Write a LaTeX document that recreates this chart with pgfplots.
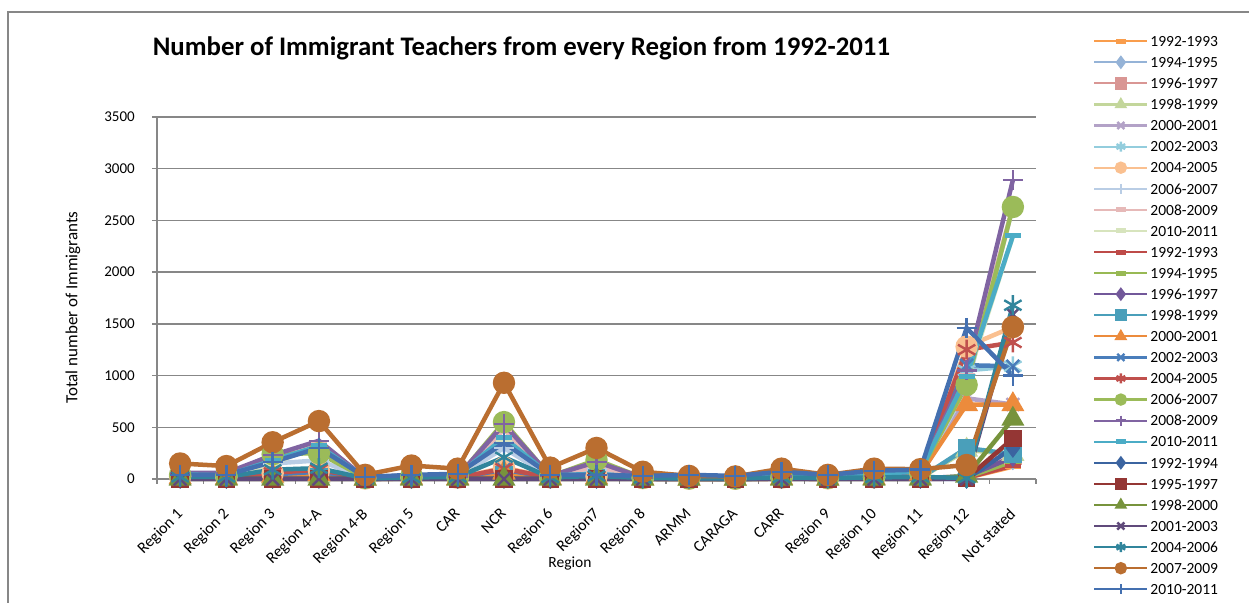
\documentclass[border=0pt]{standalone}
\usepackage{fontspec}
\setmainfont{Carlito}
\usepackage{pgfplots}
\pgfplotsset{compat=1.18}

% pale first group
\definecolor{c1}{HTML}{F99D4C}
\definecolor{c2}{HTML}{95B3D7}
\definecolor{c3}{HTML}{D99694}
\definecolor{c4}{HTML}{C3D69B}
\definecolor{c5}{HTML}{B3A2C7}
\definecolor{c6}{HTML}{93CDDD}
\definecolor{c7}{HTML}{FAC090}
\definecolor{c8}{HTML}{B9CDE5}
\definecolor{c9}{HTML}{E6B9B8}
\definecolor{c10}{HTML}{D7E4BD}
% second group
\definecolor{c11}{HTML}{BE4B48}
\definecolor{c12}{HTML}{98B954}
\definecolor{c13}{HTML}{72589A}
\definecolor{c14}{HTML}{4A9FBA}
\definecolor{c15}{HTML}{EC8B3C}
\definecolor{c16}{HTML}{4A7EBB}
\definecolor{c17}{HTML}{C0504D}
\definecolor{c18}{HTML}{9BBB59}
\definecolor{c19}{HTML}{8064A2}
\definecolor{c20}{HTML}{4BACC6}
% third group
\definecolor{c21}{HTML}{3B64A0}
\definecolor{c22}{HTML}{943634}
\definecolor{c23}{HTML}{77933C}
\definecolor{c24}{HTML}{604A7B}
\definecolor{c25}{HTML}{31859C}
\definecolor{c26}{HTML}{BA6E30}
\definecolor{c27}{HTML}{4470B0}
\definecolor{gridgray}{HTML}{878787}

\newcommand\fs{\fontsize{15bp}{18bp}\selectfont}

\pgfplotsset{
  ln/.style={color=#1, line width=4.5bp, mark options={solid, line width=2.4bp}},
  mdash/.style={mark=-, mark size=8bp, mark options={solid, line width=5bp}},
  mdiam/.style={mark=diamond*, mark size=8bp},
  msq/.style={mark=square*, mark size=7.5bp},
  mtri/.style={mark=triangle*, mark size=11bp},
  mx/.style={mark=x, mark size=9bp},
  mast/.style={mark=asterisk, mark size=10bp},
  mcirc/.style={mark=*, mark size=10bp},
  mplus/.style={mark=+, mark size=10bp},
}

% one series: values for the 19 regions, in order
\newcommand\ser[2]{\addplot[#1] table[x expr=\coordindex, y=v, row sep=\\] {v\\#2\\};}

\begin{document}
\begin{tikzpicture}
\useasboundingbox (0,0) rectangle (1249bp,603bp);
\draw[gridgray, line width=1.3bp] (8bp,0bp) -- (8bp,591bp) -- (1249bp,591bp);

\begin{axis}[
  at={(157bp,124bp)}, anchor=south west,
  width=879bp, height=362bp, scale only axis,
  xmin=-0.5, xmax=18.5, ymin=0, ymax=3500,
  clip=false,
  axis x line*=bottom, axis y line*=left,
  axis line style={gridgray, line width=1.3bp, -},
  xtick={0,...,18},
  xticklabels={Region 1,Region 2,Region 3,Region 4-A,Region 4-B,Region 5,CAR,NCR,Region 6,Region7,Region 8,ARMM,CARAGA,CARR,Region 9,Region 10,Region 11,Region 12,Not stated},
  minor xtick={-0.5,0.5,...,18.5},
  ytick={0,500,...,3500},
  ymajorgrids,
  major grid style={gridgray, line width=1.3bp},
  tick align=outside,
  major tick length=5bp, minor tick length=5bp,
  tick style={gridgray, line width=1.3bp},
  major x tick style={draw=none},
  scaled y ticks=false,
  /pgf/number format/assume math mode=true,
  /pgf/number format/set thousands separator={},
  yticklabel style={font=\fs, inner sep=0pt, anchor=east, xshift=-17bp},
  xticklabel style={font=\fontsize{16bp}{19bp}\selectfont, inner sep=0pt, xshift=-4.5bp, yshift=-23bp, rotate=45, anchor=north east},
  legend cell align=left,
  legend style={at={(1.0649,1.2272)}, anchor=north west, draw=none, fill=none,
    inner sep=0pt, row sep=8.58bp, column sep=1bp, font=\fontsize{15.5bp}{18bp}\selectfont,
    nodes={inner sep=1bp, text height=10.5bp, text depth=0bp}},
  legend image code/.code={
    \draw[#1, line width=2.2bp] (0bp,0bp) -- (53bp,0bp);
    \draw[#1, mark size=5bp] plot coordinates {(26.5bp,0bp)};
  },
  legend entries={1992-1993,1994-1995,1996-1997,1998-1999,2000-2001,2002-2003,2004-2005,2006-2007,2008-2009,2010-2011,
    1992-1993,1994-1995,1996-1997,1998-1999,2000-2001,2002-2003,2004-2005,2006-2007,2008-2009,2010-2011,
    1992-1994,1995-1997,1998-2000,2001-2003,2004-2006,2007-2009,2010-2011},
]
\ser{ln=c1, mdash}{5\\3\\8\\10\\0\\4\\3\\20\\4\\5\\2\\1\\1\\3\\2\\4\\5\\10\\120}
\ser{ln=c2, mdiam}{6\\4\\10\\12\\1\\5\\4\\25\\5\\6\\2\\1\\1\\4\\2\\5\\6\\15\\180}
\ser{ln=c3, msq}{8\\6\\14\\18\\1\\6\\5\\60\\6\\8\\3\\1\\1\\5\\3\\6\\8\\20\\220}
\ser{ln=c4, mtri}{12\\8\\20\\25\\2\\8\\6\\60\\8\\10\\4\\2\\1\\6\\3\\8\\10\\280\\240}
\ser{ln=c5, mx}{15\\10\\30\\40\\3\\10\\8\\80\\10\\15\\5\\2\\2\\8\\4\\10\\40\\780\\720}
\ser{ln=c6, mast}{20\\14\\40\\60\\4\\12\\10\\100\\12\\20\\6\\3\\2\\10\\5\\12\\50\\1050\\1090}
\ser{ln=c7, mcirc}{25\\18\\55\\80\\5\\15\\12\\110\\15\\25\\8\\3\\3\\12\\6\\15\\60\\1280\\1470}
\ser{ln=c8, mplus}{35\\25\\150\\180\\8\\25\\18\\300\\20\\90\\10\\4\\3\\18\\8\\20\\70\\880\\2630}
\ser{ln=c9, mdash}{45\\30\\170\\350\\8\\30\\20\\480\\25\\120\\12\\5\\4\\20\\10\\25\\80\\1000\\2630}
\ser{ln=c10, mdash}{40\\30\\150\\320\\10\\30\\30\\380\\30\\40\\15\\10\\8\\40\\20\\40\\70\\950\\2350}
\ser{ln=c11, mdash}{5\\4\\10\\12\\1\\5\\4\\50\\5\\6\\2\\1\\1\\3\\2\\5\\6\\12\\130}
\ser{ln=c12, mdash}{6\\5\\12\\14\\1\\6\\5\\30\\6\\7\\3\\1\\1\\4\\2\\6\\8\\18\\170}
\ser{ln=c13, mdiam}{8\\6\\15\\20\\2\\7\\5\\35\\7\\9\\3\\1\\1\\5\\3\\7\\9\\25\\210}
\ser{ln=c14, msq}{10\\8\\20\\25\\2\\8\\6\\40\\8\\10\\4\\2\\1\\6\\3\\8\\10\\300\\240}
\ser{ln=c15, mtri}{15\\10\\30\\45\\3\\10\\8\\60\\10\\15\\5\\2\\2\\8\\4\\10\\50\\720\\720}
\ser{ln=c16, mx}{20\\15\\45\\70\\4\\12\\10\\90\\12\\20\\6\\3\\2\\10\\5\\12\\55\\1100\\1090}
\ser{ln=c17, mast}{25\\20\\60\\90\\5\\15\\12\\100\\15\\25\\8\\3\\3\\12\\6\\15\\60\\1250\\1320}
\ser{ln=c18, mcirc}{40\\30\\240\\250\\10\\30\\20\\550\\25\\185\\12\\5\\4\\20\\10\\25\\70\\910\\2630}
\ser{ln=c19, mplus}{60\\60\\230\\370\\10\\40\\25\\530\\30\\165\\15\\5\\4\\25\\12\\30\\80\\1050\\2890}
\ser{ln=c20, mdash}{45\\35\\180\\320\\12\\35\\35\\400\\35\\50\\20\\10\\8\\45\\25\\45\\75\\990\\2350}
\ser{ln=c21, mdiam}{0\\0\\0\\0\\0\\0\\0\\0\\0\\0\\0\\0\\0\\0\\0\\0\\0\\0\\300}
\ser{ln=c22, msq}{0\\0\\0\\0\\0\\0\\0\\0\\0\\0\\0\\0\\0\\0\\0\\0\\0\\5\\390}
\ser{ln=c23, mtri}{0\\0\\0\\0\\0\\0\\0\\0\\0\\0\\0\\0\\0\\0\\0\\0\\0\\30\\580}
\ser{ln=c24, mx}{0\\0\\0\\0\\0\\0\\0\\0\\0\\0\\0\\0\\0\\0\\0\\0\\0\\0\\1590}
\ser{ln=c25, mast}{20\\20\\90\\105\\5\\15\\20\\210\\15\\30\\10\\5\\5\\15\\10\\15\\20\\10\\1680}
\ser{ln=c26, mcirc}{150\\125\\355\\560\\40\\130\\100\\930\\110\\300\\70\\30\\25\\100\\40\\100\\95\\135\\1470}
\ser{ln=c27, mplus}{40\\40\\165\\300\\20\\40\\50\\350\\40\\40\\30\\40\\30\\70\\40\\80\\90\\1460\\1000}
\end{axis}

\node[anchor=base, font=\fontsize{26.8bp}{31bp}\selectfont\bfseries] at (521.5bp,547bp)
  {Number of Immigrant Teachers from every Region from 1992-2011};
\node[rotate=90, font=\fontsize{17bp}{20bp}\selectfont] at (73bp,295.5bp) {Total number of Immigrants};
\node[anchor=base, font=\fontsize{15.5bp}{18bp}\selectfont] at (570bp,36bp) {Region};
\end{tikzpicture}
\end{document}
